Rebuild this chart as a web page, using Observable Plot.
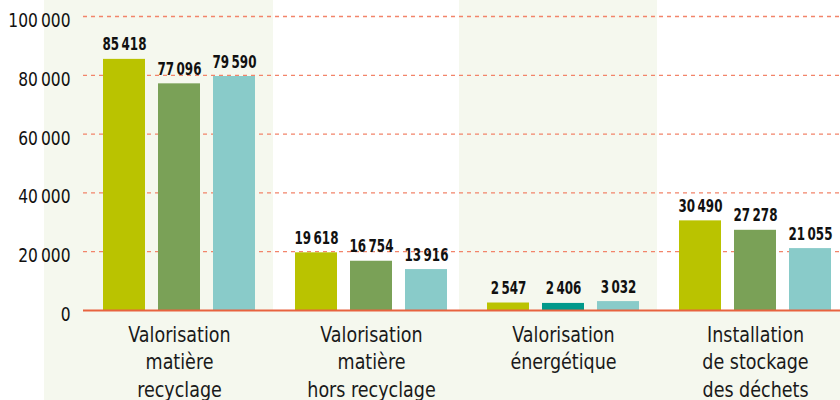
<!DOCTYPE html>
<html><head><meta charset="utf-8">
<script src="https://cdn.jsdelivr.net/npm/d3@7"></script>
<script src="https://cdn.jsdelivr.net/npm/@observablehq/plot@0.6"></script>
<style>
body{margin:0;background:#fff}
#chart svg{display:block}
</style>
</head><body><div id="chart"></div>
<script>
const categories = [
  "Valorisation\nmatière\nrecyclage",
  "Valorisation\nmatière\nhors recyclage",
  "Valorisation\nénergétique",
  "Installation\nde stockage\ndes déchets"
];
const series = ["Série 1", "Série 2", "Série 3"];
const values1 = [85418, 19618, 2547, 30490];
const values2 = [77096, 16754, 2406, 27278];
const values3 = [79590, 13916, 3032, 21055];
const yTicks = [0, 20000, 40000, 60000, 80000, 100000];

const fmt = d3.formatLocale({decimal: ",", thousands: "\u2009", grouping: [3], currency: ["", " €"]}).format(",");
const rows = categories.flatMap((c, i) =>
  [values1[i], values2[i], values3[i]].map((v, j) => ({cat: c, ci: i, series: series[j], sj: j, value: v})));

const BG = "#f5f8ee";
const barColors = ["#bac300", "#7aa157", "#89cbc9"];
const colorOf = d => (d.ci === 2 && d.sj === 1) ? "#00998b" : barColors[d.sj];
const FONT = "'DejaVu Sans Condensed','Liberation Sans Narrow',Roboto,sans-serif";

const chart = Plot.plot({
  width: 840,
  height: 400,
  marginTop: 16,
  marginBottom: 90,
  marginLeft: 83,
  marginRight: 0,
  style: {fontFamily: FONT, background: "transparent"},
  fx: {domain: categories, range: [83, 851], padding: 0, axis: null, label: null},
  x: {domain: series, paddingInner: 0.236, paddingOuter: 0.363, axis: null, label: null},
  y: {domain: [0, 100000], label: null},
  marks: [
    Plot.barY(categories, {fx: d => d, y1: -31000, y2: 0, fill: BG, insetLeft: -1, insetRight: -1}),
    Plot.barY([categories[0]], {fx: d => d, y1: -31000, y2: 105600, fill: BG, insetLeft: -39, insetRight: 2}),
    Plot.barY([categories[2]], {fx: d => d, y1: -31000, y2: 105600, fill: BG, insetLeft: -8, insetRight: 2}),
    Plot.ruleY(yTicks.filter(t => t > 0), {stroke: "#f2846a", strokeWidth: 1.3, strokeDasharray: "4,4"}),
    Plot.barY(rows, {fx: "cat", x: "series", y: "value", fill: colorOf}),
    Plot.ruleY([0], {stroke: "#e8633f", strokeWidth: 2}),
    Plot.text(rows, {fx: "cat", x: "series", y: "value", text: d => fmt(d.value),
      lineAnchor: "bottom", dy: -9, fontSize: 17, fontWeight: "bold", fill: "#111", className: "vlab"}),
    Plot.text(categories, {fx: d => d, text: d => d, frameAnchor: "bottom", lineAnchor: "top",
      dy: 12, fontSize: 20.5, lineHeight: 1.34, fill: "#1a1a1a", className: "clab"}),
    Plot.axisY({ticks: yTicks, tickFormat: fmt, tickSize: 0, tickPadding: 13, dy: 4,
      fontSize: 20, fill: "#111", label: null, className: "ylab"})
  ]
});
document.getElementById("chart").appendChild(chart);

// narrow the glyphs horizontally to mimic the condensed typeface
function squeeze(selector, k) {
  chart.querySelectorAll(selector).forEach(el => {
    const n = el.getComputedTextLength();
    if (n > 0) {
      el.setAttribute("textLength", n * k);
      el.setAttribute("lengthAdjust", "spacingAndGlyphs");
    }
  });
}
squeeze(".vlab text", 0.78);
squeeze(".clab tspan", 0.95);
squeeze(".ylab text", 0.86);
</script>
</body></html>
